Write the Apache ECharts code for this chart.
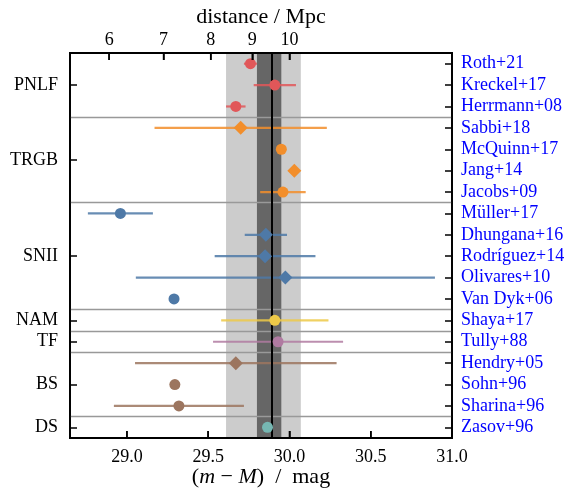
<!DOCTYPE html>
<html>
<head>
<meta charset="utf-8">
<script src="https://cdn.jsdelivr.net/npm/echarts@6/dist/echarts.min.js"></script>
<style>html,body{margin:0;padding:0;background:#fff}#c{width:569px;height:492px}</style>
</head>
<body>
<div id="c"></div>
<script>
// ---- data ----
var refs = ['Roth+21','Kreckel+17','Herrmann+08','Sabbi+18','McQuinn+17','Jang+14','Jacobs+09',
  'Müller+17','Dhungana+16','Rodríguez+14','Olivares+10','Van Dyk+06','Shaya+17','Tully+88',
  'Hendry+05','Sohn+96','Sharina+96','Zasov+96'];
var groupNames = ['PNLF','TRGB','SNII','NAM','TF','BS','DS'];
var groupOf = [0,0,0,1,1,1,1,2,2,2,2,2,3,4,5,5,5,6];
var mu =   [29.76,29.91,29.67,29.70,29.95,30.03,29.96,28.96,29.855,29.85,29.975,29.29,29.91,29.93,29.67,29.295,29.32,29.865];
var err =  [0.04, 0.13, 0.06, 0.53, 0.03, 0.0,  0.14, 0.20, 0.13,  0.31, 0.92,  0.0,  0.33, 0.40, 0.62, 0.0,   0.40, 0.0];
var marker = ['circle','circle','circle','diamond','circle','diamond','circle','circle','diamond','diamond',
  'diamond','circle','circle','circle','diamond','circle','circle','circle'];
var groupColors = ['#e15759','#f28e2b','#4e79a7','#edc948','#b07aa1','#9c755f','#76b7b2'];
var magTicks = [29.0,29.5,30.0,30.5,31.0];
var distTicks = [6,7,8,9,10];
var meanMu = 29.89, innerBand = [29.80,29.95], outerBand = [29.61,30.07];
var xMin = 28.65, xMax = 31.0;
var xTitle = 'distance / Mpc';

// derived
var groupPos = groupNames.map(function(g,gi){
  var idx = []; groupOf.forEach(function(v,i){ if(v===gi) idx.push(i); });
  return (idx[0] + idx[idx.length-1]) / 2;
});
var separators = [];
for (var i = 1; i < groupOf.length; i++) if (groupOf[i] !== groupOf[i-1]) separators.push(i - 0.5);
var distMag = distTicks.map(function(d){ return 5*Math.log10(d) + 25; });

var FONT = 'Liberation Serif';
var chart = echarts.init(document.getElementById('c'));
function axLine(){ return {show:true, onZero:false, lineStyle:{color:'#000', width:1.8}}; }
function tickOpt(vals){
  var t = {show:true, inside:true, length:7, lineStyle:{color:'#000', width:1.5}};
  if (vals) t.customValues = vals;
  return t;
}
var GL = 70, GR = 117, GT = 53, GB = 54, W = 569, H = 492;
var cx = GL + (W - GL - GR) / 2;
var xTickData = magTicks.map(function(v){ return [v, 0]; }).concat(distMag.map(function(v){ return [v, 1]; }));

chart.setOption({
  animation:false,
  grid:{left:GL, right:GR, top:GT, bottom:GB, outerBoundsMode:'none',
    show:true, borderColor:'#000', borderWidth:1.8, backgroundColor:'rgba(0,0,0,0)'},
  graphic:[
    {type:'text', x:cx, y:17, z:10, style:{text:xTitle, fontFamily:FONT, fontSize:22, fill:'#000',
      textAlign:'center', textVerticalAlign:'middle'}},
    {type:'text', x:cx, y:477, z:10, style:{text:'{p|(}{i|m}{p| − }{i|M}{p|)  /  mag}',
      textAlign:'center', textVerticalAlign:'middle',
      rich:{p:{fontFamily:FONT,fontSize:22,fill:'#000'},i:{fontFamily:FONT,fontSize:22,fontStyle:'italic',fill:'#000'}}}}
  ],
  xAxis:[{
    type:'value', position:'bottom', min:xMin, max:xMax, z:10,
    axisLine:axLine(), splitLine:{show:false},
    axisTick:tickOpt(magTicks),
    axisLabel:{customValues:magTicks, fontFamily:FONT, fontSize:18, color:'#000', margin:10, hideOverlap:false,
      formatter:function(v){ return v.toFixed(1); }}
  },{
    type:'value', position:'top', min:xMin, max:xMax, z:10,
    axisLine:axLine(), splitLine:{show:false},
    axisTick:tickOpt(distMag),
    axisLabel:{customValues:distMag, fontFamily:FONT, fontSize:18, color:'#000', margin:4, hideOverlap:false,
      formatter:function(v){ return String(Math.round(Math.pow(10,(v-25)/5))); }}
  }],
  yAxis:[{
    type:'value', position:'left', inverse:true, min:-0.5, max:refs.length-0.5, z:10,
    axisLine:axLine(), splitLine:{show:false},
    axisTick:tickOpt(groupPos),
    axisLabel:{customValues:groupPos, fontFamily:FONT, fontSize:18, color:'#000', margin:12, hideOverlap:false,
      formatter:function(v){
        for (var k = 0; k < groupPos.length; k++) if (Math.abs(groupPos[k]-v) < 1e-6) return groupNames[k];
        return '';
      }}
  },{
    type:'category', position:'right', inverse:true, data:refs, boundaryGap:true, z:10,
    axisLine:axLine(), splitLine:{show:false},
    axisTick:(function(){ var t = tickOpt(null); t.alignWithLabel = true; return t; })(),
    axisLabel:{fontFamily:FONT, fontSize:18, color:'#0000ff', margin:9, interval:0}
  }],
  series:[{
    type:'scatter', xAxisIndex:0, yAxisIndex:0, data:[], z:1, silent:true,
    markArea:{silent:true, data:[
      [{xAxis:outerBand[0], itemStyle:{color:'#cccccc'}},{xAxis:outerBand[1]}],
      [{xAxis:innerBand[0], itemStyle:{color:'#666666'}},{xAxis:innerBand[1]}]
    ]}
  },{
    type:'scatter', xAxisIndex:0, yAxisIndex:0, data:[], z:2, silent:true,
    markLine:{silent:true, symbol:'none', label:{show:false},
      lineStyle:{color:'#999999', width:1.3, type:'solid'},
      data:separators.map(function(s){ return {yAxis:s}; })}
  },{
    type:'scatter', xAxisIndex:0, yAxisIndex:0, data:[], z:3, silent:true,
    markLine:{silent:true, symbol:'none', label:{show:false},
      lineStyle:{color:'#000', width:2, type:'solid'},
      data:[{xAxis:meanMu}]}
  },{
    // tick marks of the bottom (magnitude) and top (distance) axes, kept above the bands
    type:'custom', xAxisIndex:0, yAxisIndex:0, z:6, silent:true, clip:false,
    data:xTickData,
    renderItem:function(params, api){
      var cs = params.coordSys;
      var px = api.coord([api.value(0), 0])[0];
      var top = api.value(1) === 1;
      var y0 = top ? cs.y : cs.y + cs.height;
      var y1 = top ? cs.y + 7 : cs.y + cs.height - 7;
      return {type:'line', shape:{x1:px, y1:y0, x2:px, y2:y1}, style:{stroke:'#000', lineWidth:1.5}};
    }
  },{
    type:'custom', xAxisIndex:0, yAxisIndex:0, z:4,
    data:mu.map(function(m,i){ return [m, i, err[i], groupOf[i]]; }),
    renderItem:function(params, api){
      var x = api.value(0), y = api.value(1), e = api.value(2), g = api.value(3);
      if (!e) return null;
      var p1 = api.coord([x-e, y]), p2 = api.coord([x+e, y]);
      return {type:'line', shape:{x1:p1[0], y1:p1[1], x2:p2[0], y2:p2[1]},
        style:{stroke:groupColors[g], lineWidth:2.2, opacity:0.85}};
    }
  },{
    type:'scatter', xAxisIndex:0, yAxisIndex:0, z:5,
    data:mu.map(function(m,i){
      return {value:[m,i], symbol:marker[i], symbolSize: marker[i]==='diamond'?14:11,
        itemStyle:{color:groupColors[groupOf[i]], opacity:1}};
    })
  }]
});
</script>
</body>
</html>
